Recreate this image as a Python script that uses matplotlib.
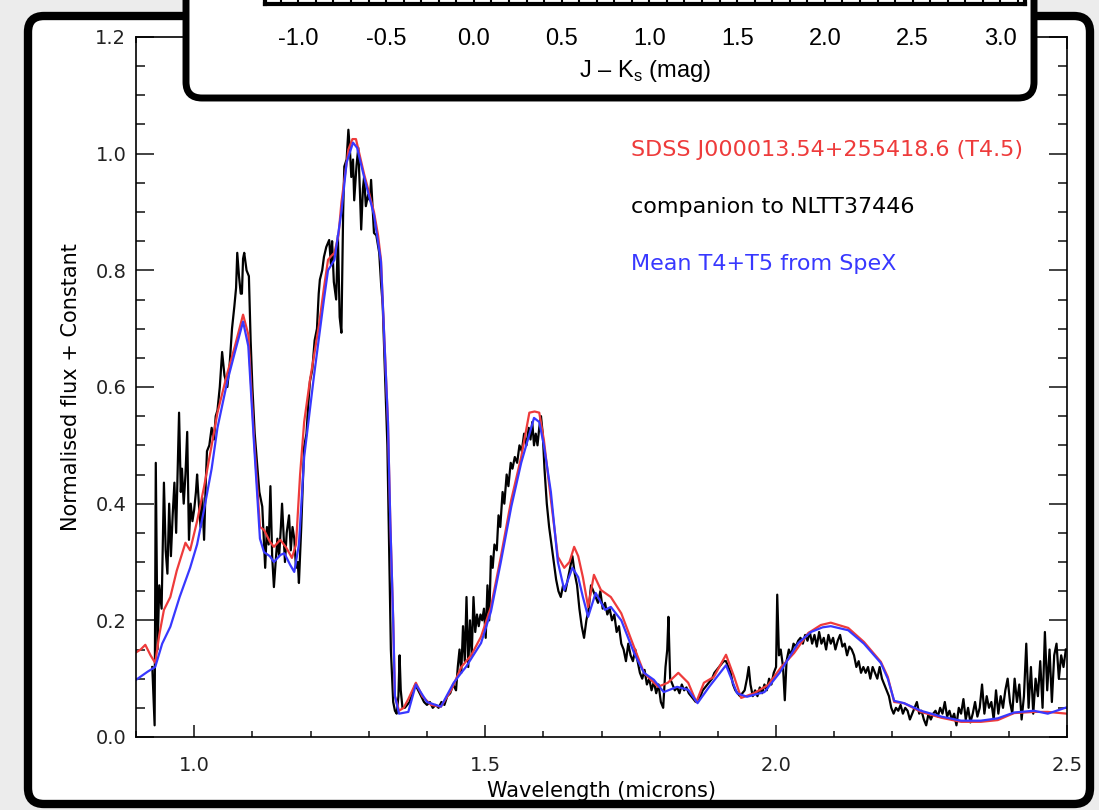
import matplotlib as mpl
mpl.use('Agg')
import matplotlib.pyplot as plt
from matplotlib.patches import FancyBboxPatch
from matplotlib.transforms import IdentityTransform
from matplotlib.ticker import MultipleLocator, FormatStrFormatter

# --- data (wavelength in microns, normalised flux) ---
wave_red = [0.900, 0.908, 0.916, 0.925, 0.933, 0.940, 0.948, 0.959, 0.970, 0.985,
            0.993, 1.005, 1.017, 1.030, 1.040, 1.057, 1.070, 1.084, 1.093, 1.103,
            1.113, 1.120, 1.130, 1.137, 1.148, 1.158, 1.168, 1.175, 1.182, 1.189,
            1.199, 1.207, 1.215, 1.223, 1.230, 1.236, 1.241, 1.248, 1.253, 1.260,
            1.265, 1.272, 1.278, 1.285, 1.292, 1.300, 1.309, 1.316, 1.321, 1.326,
            1.333, 1.337, 1.342, 1.345, 1.352, 1.360, 1.368, 1.381, 1.392, 1.407,
            1.424, 1.442, 1.459, 1.476, 1.493, 1.510, 1.527, 1.545, 1.562, 1.576,
            1.585, 1.593, 1.601, 1.613, 1.625, 1.636, 1.645, 1.653, 1.660, 1.668,
            1.677, 1.687, 1.699, 1.716, 1.734, 1.756, 1.773, 1.797, 1.814, 1.832,
            1.849, 1.863, 1.876, 1.893, 1.914, 1.928, 1.940, 1.962, 1.986, 2.009,
            2.031, 2.055, 2.077, 2.094, 2.124, 2.151, 2.180, 2.192, 2.203, 2.220,
            2.249, 2.284, 2.318, 2.352, 2.381, 2.409, 2.443, 2.467, 2.500]
flux_red = [0.145, 0.150, 0.158, 0.140, 0.127, 0.175, 0.218, 0.240, 0.285, 0.333,
            0.320, 0.370, 0.429, 0.500, 0.556, 0.624, 0.670, 0.724, 0.690, 0.510,
            0.360, 0.355, 0.335, 0.326, 0.338, 0.325, 0.307, 0.330, 0.450, 0.540,
            0.612, 0.660, 0.710, 0.770, 0.818, 0.825, 0.830, 0.860, 0.916, 0.970,
            1.007, 1.025, 1.025, 0.995, 0.965, 0.935, 0.900, 0.860, 0.818, 0.700,
            0.540, 0.370, 0.200, 0.070, 0.045, 0.050, 0.065, 0.093, 0.070, 0.055,
            0.052, 0.081, 0.120, 0.140, 0.172, 0.223, 0.309, 0.407, 0.480, 0.556,
            0.558, 0.556, 0.509, 0.407, 0.309, 0.290, 0.300, 0.326, 0.310, 0.274,
            0.223, 0.278, 0.252, 0.240, 0.212, 0.154, 0.110, 0.086, 0.093, 0.110,
            0.093, 0.060, 0.093, 0.103, 0.141, 0.103, 0.067, 0.075, 0.089, 0.120,
            0.144, 0.178, 0.192, 0.196, 0.187, 0.163, 0.129, 0.103, 0.060, 0.058,
            0.043, 0.033, 0.026, 0.026, 0.029, 0.041, 0.043, 0.043, 0.040]

wave_blue = [0.900, 0.910, 0.920, 0.933, 0.945, 0.959, 0.975, 0.993, 1.005, 1.017,
             1.030, 1.040, 1.057, 1.070, 1.084, 1.093, 1.103, 1.113, 1.120, 1.130,
             1.137, 1.148, 1.155, 1.165, 1.172, 1.180, 1.189, 1.206, 1.223, 1.230,
             1.241, 1.253, 1.262, 1.273, 1.280, 1.292, 1.309, 1.321, 1.326, 1.333,
             1.337, 1.342, 1.345, 1.352, 1.368, 1.381, 1.400, 1.424, 1.446, 1.459,
             1.467, 1.493, 1.510, 1.527, 1.545, 1.562, 1.584, 1.593, 1.601, 1.613,
             1.625, 1.636, 1.650, 1.660, 1.668, 1.677, 1.690, 1.706, 1.716, 1.734,
             1.756, 1.773, 1.790, 1.807, 1.830, 1.849, 1.865, 1.885, 1.914, 1.933,
             1.950, 1.980, 2.006, 2.038, 2.060, 2.080, 2.094, 2.124, 2.151, 2.180,
             2.192, 2.203, 2.220, 2.249, 2.284, 2.318, 2.352, 2.381, 2.409, 2.443,
             2.467, 2.500]
flux_blue = [0.098, 0.105, 0.112, 0.120, 0.160, 0.189, 0.240, 0.290, 0.330, 0.390,
             0.460, 0.530, 0.610, 0.660, 0.712, 0.670, 0.500, 0.340, 0.317, 0.310,
             0.300, 0.312, 0.315, 0.295, 0.283, 0.330, 0.480, 0.620, 0.750, 0.800,
             0.818, 0.900, 0.985, 1.019, 1.010, 0.960, 0.895, 0.815, 0.700, 0.540,
             0.370, 0.200, 0.070, 0.040, 0.043, 0.090, 0.060, 0.052, 0.093, 0.110,
             0.120, 0.161, 0.215, 0.300, 0.395, 0.470, 0.547, 0.540, 0.500, 0.420,
             0.300, 0.252, 0.290, 0.274, 0.240, 0.206, 0.247, 0.218, 0.223, 0.200,
             0.144, 0.110, 0.098, 0.077, 0.086, 0.081, 0.058, 0.086, 0.123, 0.075,
             0.069, 0.077, 0.110, 0.161, 0.180, 0.188, 0.190, 0.183, 0.160, 0.127,
             0.100, 0.062, 0.058, 0.045, 0.035, 0.028, 0.028, 0.032, 0.042, 0.045,
             0.040, 0.051]

wave_black = [0.928, 0.932, 0.934, 0.937, 0.940, 0.944, 0.948, 0.951, 0.954, 0.957,
              0.960, 0.963, 0.966, 0.969, 0.972, 0.974, 0.977, 0.979, 0.982, 0.985,
              0.988, 0.991, 0.994, 0.997, 1.000, 1.003, 1.005, 1.008, 1.011, 1.014,
              1.017, 1.020, 1.022, 1.026, 1.030, 1.034, 1.037, 1.040, 1.044, 1.048,
              1.052, 1.057, 1.061, 1.065, 1.069, 1.072, 1.074, 1.077, 1.080, 1.082,
              1.084, 1.086, 1.090, 1.094, 1.097, 1.100, 1.104, 1.108, 1.112, 1.117,
              1.120, 1.122, 1.125, 1.128, 1.131, 1.134, 1.137, 1.140, 1.143, 1.146,
              1.149, 1.151, 1.154, 1.156, 1.159, 1.163, 1.166, 1.169, 1.172, 1.175,
              1.178, 1.180, 1.184, 1.189, 1.193, 1.196, 1.199, 1.203, 1.207, 1.211,
              1.214, 1.216, 1.220, 1.223, 1.227, 1.232, 1.235, 1.237, 1.240, 1.244,
              1.247, 1.250, 1.253, 1.256, 1.258, 1.262, 1.265, 1.268, 1.270, 1.273,
              1.275, 1.279, 1.282, 1.285, 1.287, 1.290, 1.292, 1.295, 1.299, 1.302,
              1.304, 1.307, 1.309, 1.313, 1.318, 1.321, 1.324, 1.328, 1.332, 1.335,
              1.338, 1.342, 1.345, 1.348, 1.351, 1.353, 1.355, 1.358, 1.362, 1.366,
              1.370, 1.375, 1.380, 1.385, 1.390, 1.395, 1.400, 1.405, 1.410, 1.415,
              1.420, 1.425, 1.430, 1.435, 1.440, 1.445, 1.450, 1.453, 1.456, 1.459,
              1.462, 1.465, 1.468, 1.471, 1.474, 1.477, 1.480, 1.483, 1.486, 1.489,
              1.492, 1.495, 1.498, 1.501, 1.504, 1.507, 1.510, 1.513, 1.516, 1.520,
              1.523, 1.526, 1.530, 1.533, 1.537, 1.540, 1.544, 1.547, 1.551, 1.555,
              1.559, 1.563, 1.567, 1.571, 1.575, 1.578, 1.581, 1.584, 1.587, 1.590,
              1.593, 1.596, 1.599, 1.602, 1.606, 1.610, 1.614, 1.618, 1.622, 1.626,
              1.630, 1.634, 1.638, 1.642, 1.646, 1.650, 1.654, 1.658, 1.662, 1.666,
              1.670, 1.674, 1.678, 1.682, 1.686, 1.690, 1.694, 1.698, 1.702, 1.706,
              1.710, 1.714, 1.718, 1.722, 1.726, 1.730, 1.734, 1.738, 1.742, 1.746,
              1.750, 1.754, 1.758, 1.762, 1.766, 1.770, 1.774, 1.778, 1.782, 1.786,
              1.790, 1.794, 1.798, 1.802, 1.806, 1.810, 1.813, 1.815, 1.818, 1.822,
              1.826, 1.830, 1.834, 1.838, 1.842, 1.846, 1.850, 1.854, 1.858, 1.862,
              1.866, 1.870, 1.874, 1.878, 1.882, 1.886, 1.890, 1.894, 1.898, 1.902,
              1.906, 1.910, 1.914, 1.918, 1.922, 1.926, 1.930, 1.934, 1.938, 1.942,
              1.946, 1.950, 1.953, 1.956, 1.960, 1.964, 1.968, 1.972, 1.976, 1.980,
              1.984, 1.988, 1.992, 1.996, 2.000, 2.002, 2.005, 2.008, 2.012, 2.015,
              2.018, 2.022, 2.026, 2.030, 2.034, 2.038, 2.042, 2.046, 2.050, 2.054,
              2.058, 2.062, 2.066, 2.070, 2.074, 2.078, 2.082, 2.086, 2.090, 2.094,
              2.098, 2.102, 2.106, 2.110, 2.114, 2.118, 2.122, 2.126, 2.130, 2.134,
              2.138, 2.142, 2.146, 2.150, 2.154, 2.158, 2.162, 2.166, 2.170, 2.174,
              2.178, 2.182, 2.186, 2.190, 2.194, 2.198, 2.202, 2.206, 2.210, 2.214,
              2.218, 2.222, 2.226, 2.230, 2.234, 2.238, 2.242, 2.246, 2.250, 2.254,
              2.258, 2.262, 2.266, 2.270, 2.274, 2.278, 2.282, 2.286, 2.290, 2.294,
              2.298, 2.302, 2.306, 2.310, 2.314, 2.318, 2.322, 2.326, 2.330, 2.334,
              2.338, 2.342, 2.346, 2.350, 2.354, 2.358, 2.362, 2.366, 2.370, 2.374,
              2.378, 2.382, 2.386, 2.390, 2.394, 2.398, 2.402, 2.406, 2.410, 2.414,
              2.418, 2.422, 2.426, 2.430, 2.434, 2.438, 2.442, 2.446, 2.450, 2.454,
              2.458, 2.462, 2.466, 2.470, 2.474, 2.478, 2.482, 2.486, 2.490, 2.494,
              2.498]
flux_black = [0.12, 0.02, 0.47, 0.15, 0.26, 0.22, 0.436, 0.32, 0.28, 0.40,
              0.31, 0.38, 0.436, 0.35, 0.47, 0.556, 0.42, 0.46, 0.40, 0.45,
              0.523, 0.338, 0.40, 0.37, 0.39, 0.42, 0.45, 0.40, 0.36, 0.41,
              0.338, 0.44, 0.49, 0.50, 0.53, 0.51, 0.55, 0.56, 0.60, 0.66,
              0.62, 0.60, 0.64, 0.70, 0.738, 0.77, 0.83, 0.79, 0.76, 0.76,
              0.82, 0.83, 0.80, 0.79, 0.68, 0.60, 0.52, 0.47, 0.42, 0.395,
              0.33, 0.29, 0.36, 0.33, 0.43, 0.31, 0.257, 0.30, 0.34, 0.31,
              0.36, 0.40, 0.34, 0.30, 0.35, 0.38, 0.32, 0.36, 0.34, 0.29,
              0.30, 0.264, 0.36, 0.498, 0.52, 0.57, 0.61, 0.63, 0.68, 0.70,
              0.76, 0.784, 0.80, 0.823, 0.84, 0.852, 0.81, 0.85, 0.78, 0.75,
              0.86, 0.72, 0.693, 0.90, 0.978, 0.99, 1.041, 1.00, 0.96, 0.99,
              0.92, 0.98, 1.01, 0.93, 0.87, 0.94, 0.96, 0.91, 0.93, 0.92,
              0.955, 0.90, 0.864, 0.86, 0.83, 0.78, 0.74, 0.62, 0.50, 0.33,
              0.15, 0.06, 0.045, 0.04, 0.07, 0.14, 0.08, 0.05, 0.05, 0.055,
              0.06, 0.075, 0.09, 0.08, 0.07, 0.06, 0.055, 0.06, 0.05, 0.055,
              0.05, 0.06, 0.055, 0.07, 0.075, 0.09, 0.08, 0.12, 0.15, 0.11,
              0.19, 0.13, 0.24, 0.12, 0.20, 0.14, 0.24, 0.18, 0.21, 0.19,
              0.21, 0.20, 0.22, 0.17, 0.26, 0.20, 0.31, 0.29, 0.33, 0.32,
              0.38, 0.36, 0.42, 0.40, 0.45, 0.43, 0.47, 0.46, 0.48, 0.47,
              0.50, 0.49, 0.52, 0.50, 0.53, 0.51, 0.54, 0.50, 0.52, 0.50,
              0.53, 0.55, 0.52, 0.46, 0.40, 0.36, 0.33, 0.30, 0.27, 0.25,
              0.24, 0.26, 0.25, 0.27, 0.29, 0.31, 0.28, 0.26, 0.22, 0.19,
              0.17, 0.20, 0.22, 0.26, 0.25, 0.24, 0.23, 0.25, 0.22, 0.23,
              0.21, 0.22, 0.20, 0.21, 0.18, 0.19, 0.16, 0.15, 0.13, 0.16,
              0.14, 0.13, 0.15, 0.13, 0.11, 0.10, 0.115, 0.09, 0.10, 0.08,
              0.095, 0.075, 0.09, 0.06, 0.05, 0.12, 0.15, 0.206, 0.10, 0.09,
              0.08, 0.085, 0.075, 0.09, 0.08, 0.085, 0.075, 0.07, 0.065, 0.06,
              0.065, 0.07, 0.08, 0.085, 0.09, 0.095, 0.10, 0.11, 0.115, 0.12,
              0.125, 0.13, 0.13, 0.12, 0.11, 0.09, 0.08, 0.075, 0.07, 0.075,
              0.08, 0.10, 0.12, 0.09, 0.07, 0.08, 0.07, 0.085, 0.075, 0.09,
              0.08, 0.10, 0.09, 0.11, 0.12, 0.244, 0.14, 0.15, 0.12, 0.063,
              0.13, 0.15, 0.14, 0.16, 0.155, 0.165, 0.17, 0.16, 0.175, 0.165,
              0.18, 0.16, 0.175, 0.155, 0.18, 0.16, 0.17, 0.15, 0.175, 0.16,
              0.17, 0.15, 0.165, 0.175, 0.155, 0.16, 0.14, 0.155, 0.15, 0.14,
              0.12, 0.13, 0.11, 0.12, 0.11, 0.12, 0.10, 0.12, 0.11, 0.10,
              0.12, 0.10, 0.09, 0.08, 0.07, 0.05, 0.04, 0.05, 0.045, 0.055,
              0.04, 0.05, 0.045, 0.03, 0.04, 0.05, 0.06, 0.04, 0.045, 0.03,
              0.02, 0.04, 0.03, 0.04, 0.045, 0.035, 0.05, 0.04, 0.06, 0.035,
              0.045, 0.03, 0.04, 0.02, 0.05, 0.04, 0.065, 0.03, 0.05, 0.025,
              0.04, 0.06, 0.035, 0.05, 0.09, 0.04, 0.07, 0.05, 0.06, 0.03,
              0.08, 0.04, 0.07, 0.05, 0.08, 0.10, 0.06, 0.04, 0.10, 0.06,
              0.09, 0.03, 0.07, 0.16, 0.05, 0.12, 0.04, 0.10, 0.07, 0.13,
              0.05, 0.18, 0.08, 0.15, 0.06, 0.14, 0.16, 0.10, 0.14, 0.12,
              0.15]

labels = ['SDSS J000013.54+255418.6 (T4.5)', 'companion to NLTT37446',
          'Mean T4+T5 from SpeX']
inset_ticks = [-1.0, -0.5, 0.0, 0.5, 1.0, 1.5, 2.0, 2.5, 3.0]

RED = '#ee3b3b'
BLUE = '#3838ff'

plt.rcParams['font.family'] = ['DejaVu Sans']
plt.rcParams['mathtext.fontset'] = 'custom'
plt.rcParams['mathtext.rm'] = 'Liberation Sans'

fig = plt.figure(figsize=(10.99, 8.10), dpi=100, facecolor='#ececec')
pix = IdentityTransform()

# outer photo frame (thick black rounded border)
frame = FancyBboxPatch((28, 6), 1062, 788, boxstyle='round,pad=0,rounding_size=16',
                       lw=6, ec='black', fc='white', transform=pix, zorder=-1)
fig.add_artist(frame)

# main spectrum plot
ax = fig.add_axes([136 / 1099, 73 / 810, 931 / 1099, 700 / 810])
ax.set_facecolor('none')
ax.plot(wave_black, flux_black, color='black', lw=1.6)
ax.plot(wave_red, flux_red, color=RED, lw=1.6)
ax.plot(wave_blue, flux_blue, color=BLUE, lw=1.6)
ax.set_xlim(0.9, 2.5)
ax.set_ylim(0.0, 1.2)
ax.xaxis.set_major_locator(MultipleLocator(0.5))
ax.xaxis.set_minor_locator(MultipleLocator(0.1))
ax.yaxis.set_major_locator(MultipleLocator(0.2))
ax.yaxis.set_minor_locator(MultipleLocator(0.05))
ax.xaxis.set_major_formatter(FormatStrFormatter('%.1f'))
ax.yaxis.set_major_formatter(FormatStrFormatter('%.1f'))
ax.tick_params(axis='both', which='both', direction='in', top=True, right=True,
               width=1.2, colors='#222222', labelsize=14)
ax.tick_params(axis='y', which='major', length=13, pad=7)
ax.tick_params(axis='y', which='minor', length=6.5)
ax.tick_params(axis='x', which='major', length=8.5, pad=14)
ax.tick_params(axis='x', which='minor', length=4.5)
for s in ax.spines.values():
    s.set_linewidth(1.2)
ax.set_xlabel('Wavelength (microns)', fontsize=15, labelpad=4)
ax.set_ylabel('Normalised flux + Constant', fontsize=15, labelpad=10)

ax.text(1.751, 1.007, labels[0], color=RED, fontsize=16, va='center')
ax.text(1.751, 0.909, labels[1], color='black', fontsize=16, va='center')
ax.text(1.751, 0.810, labels[2], color=BLUE, fontsize=16, va='center')

# overlapping panel from another figure at the top
box = FancyBboxPatch((186, 712), 848, 200, boxstyle='round,pad=0,rounding_size=16',
                     lw=5, ec='black', fc='white', transform=pix, zorder=2)
fig.add_artist(box)

ax2 = fig.add_axes([265 / 1099, 1 - 4 / 810, 760 / 1099, 0.2], zorder=3)
ax2.set_facecolor('white')
ax2.set_xlim(-1.19, 3.14)
ax2.set_xticks(inset_ticks)
ax2.set_xticklabels(['%.1f' % t for t in inset_ticks], family='Liberation Sans')
ax2.xaxis.set_minor_locator(MultipleLocator(0.1))
ax2.set_yticks([])
ax2.tick_params(axis='x', which='both', direction='in', labelsize=17, pad=17,
                length=6, width=1.5)
for s in ax2.spines.values():
    s.set_linewidth(3)
ax2.set_xlabel(r'J – K$_{\rm s}$ (mag)', fontsize=17, family='Liberation Sans',
               labelpad=6)

fig.savefig('out.png', dpi=100, facecolor=fig.get_facecolor())
plt.close(fig)
